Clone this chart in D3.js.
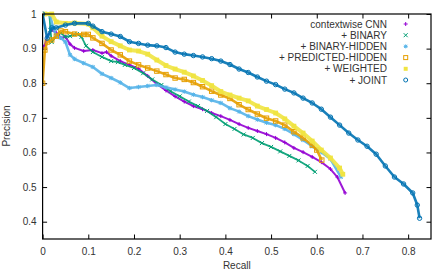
<!DOCTYPE html>
<html><head><meta charset="utf-8">
<script src="https://cdn.jsdelivr.net/npm/d3@7"></script>
<style>body{margin:0;background:#fff}svg{display:block}text{font-family:"Liberation Sans",Arial,sans-serif;font-size:10px;fill:#333}</style>
</head><body><svg id="c" width="433" height="274"></svg>
<script>
const seriesNames = ["contextwise CNN","+ BINARY","+ BINARY-HIDDEN","+ PREDICTED-HIDDEN","+ WEIGHTED","+ JOINT"];
const seriesColors = ["#9400d3","#009e73","#56b4e9","#e69f00","#f0e442","#0072b2"];
const seriesMarkers = ["plus","cross","star","square","filledSquare","circle"];
const xTicks = [0,0.1,0.2,0.3,0.4,0.5,0.6,0.7,0.8];
const yTicks = [0.4,0.5,0.6,0.7,0.8,0.9,1];
const xLabel = "Recall", yLabel = "Precision";

const cnnRecall = [0,0.005,0.01,0.02,0.03,0.04,0.05,0.06,0.07,0.09,0.11,0.13,0.14,0.15,0.17,0.19,0.21,0.23,0.25,0.27,0.29,0.31,0.33,0.35,0.37,0.39,0.41,0.43,0.45,0.47,0.49,0.51,0.53,0.55,0.57,0.59,0.61,0.63,0.645,0.662];
const cnnPrecision = [0.902,0.91,0.936,0.954,0.945,0.931,0.934,0.913,0.902,0.893,0.896,0.887,0.89,0.879,0.864,0.853,0.842,0.821,0.798,0.779,0.762,0.747,0.734,0.725,0.714,0.705,0.694,0.682,0.671,0.662,0.653,0.642,0.629,0.613,0.601,0.587,0.572,0.552,0.529,0.483];

const binRecall = [0.015,0.017,0.02,0.03,0.04,0.05,0.06,0.075,0.085,0.095,0.11,0.13,0.15,0.165,0.18,0.2,0.22,0.24,0.26,0.28,0.3,0.32,0.34,0.36,0.38,0.4,0.42,0.44,0.46,0.48,0.5,0.52,0.54,0.56,0.58,0.596];
const binPrecision = [1,0.954,0.919,0.936,0.945,0.934,0.936,0.942,0.934,0.908,0.89,0.876,0.864,0.861,0.853,0.844,0.829,0.811,0.795,0.777,0.762,0.747,0.734,0.72,0.702,0.682,0.668,0.652,0.642,0.627,0.616,0.603,0.59,0.577,0.561,0.544];

const binHidRecall = [0.017,0.022,0.03,0.04,0.05,0.06,0.07,0.09,0.11,0.13,0.15,0.17,0.19,0.21,0.23,0.25,0.27,0.29,0.31,0.33,0.35,0.37,0.39,0.41,0.43,0.45,0.47,0.49,0.51,0.53,0.55,0.57,0.59,0.61,0.63,0.653];
const binHidPrecision = [0.994,0.965,0.936,0.931,0.919,0.882,0.87,0.858,0.847,0.827,0.815,0.802,0.786,0.789,0.792,0.795,0.788,0.782,0.776,0.767,0.76,0.751,0.743,0.728,0.718,0.705,0.695,0.686,0.679,0.668,0.653,0.636,0.618,0.601,0.581,0.529];

const predRecall = [0,0.005,0.01,0.02,0.03,0.04,0.05,0.07,0.09,0.1,0.11,0.13,0.15,0.17,0.19,0.21,0.23,0.25,0.27,0.29,0.31,0.33,0.35,0.37,0.39,0.41,0.43,0.45,0.47,0.49,0.51,0.53,0.55,0.57,0.59,0.6,0.611];
const predPrecision = [0.8,0.896,0.919,0.925,0.936,0.951,0.949,0.942,0.941,0.941,0.931,0.915,0.896,0.882,0.864,0.853,0.844,0.835,0.825,0.815,0.811,0.802,0.79,0.777,0.766,0.756,0.738,0.724,0.711,0.699,0.691,0.679,0.66,0.642,0.621,0.607,0.578];

const weiRecall = [0.005,0.02,0.03,0.05,0.07,0.1,0.11,0.13,0.15,0.17,0.19,0.21,0.23,0.25,0.27,0.29,0.31,0.33,0.35,0.37,0.39,0.41,0.43,0.45,0.47,0.49,0.51,0.53,0.55,0.57,0.59,0.61,0.63,0.65,0.657];
const weiPrecision = [1,1,0.977,0.973,0.974,0.971,0.96,0.936,0.92,0.908,0.896,0.893,0.884,0.867,0.851,0.841,0.832,0.821,0.808,0.793,0.776,0.766,0.757,0.749,0.734,0.724,0.714,0.697,0.676,0.656,0.633,0.607,0.584,0.555,0.537];

const jointRecall = [0,0.01,0.02,0.03,0.05,0.07,0.1,0.11,0.13,0.15,0.17,0.19,0.21,0.23,0.25,0.27,0.29,0.31,0.33,0.35,0.37,0.39,0.41,0.43,0.45,0.47,0.49,0.51,0.53,0.55,0.57,0.59,0.61,0.63,0.65,0.67,0.69,0.71,0.73,0.75,0.77,0.79,0.81,0.82,0.825];
const jointPrecision = [1,0.93,0.96,0.96,0.968,0.973,0.973,0.965,0.949,0.942,0.935,0.92,0.915,0.91,0.908,0.903,0.89,0.884,0.88,0.876,0.871,0.864,0.854,0.841,0.831,0.818,0.806,0.796,0.783,0.772,0.757,0.743,0.725,0.702,0.679,0.656,0.636,0.618,0.595,0.561,0.529,0.509,0.483,0.448,0.41];

const seriesRecall = [cnnRecall,binRecall,binHidRecall,predRecall,weiRecall,jointRecall];
const seriesPrecision = [cnnPrecision,binPrecision,binHidPrecision,predPrecision,weiPrecision,jointPrecision];

const W=433,H=274, m={l:42.6,t:14,r:2,b:35};
const svg=d3.select("#c");
const x=d3.scaleLinear().domain([0,0.85]).range([m.l,W-m.r]);
const y=d3.scaleLinear().domain([0.35,1]).range([H-m.b,m.t]);

const tl=4.5;
svg.append("g").attr("transform",`translate(0,${H-m.b})`).call(d3.axisBottom(x).tickValues(xTicks).tickFormat(d3.format("")).tickSize(-tl).tickPadding(9))
  .call(g=>{g.select(".domain").remove();g.selectAll("text").attr("font-size",10).attr("fill","#333");});
svg.append("g").attr("transform",`translate(0,${m.t})`).call(d3.axisTop(x).tickValues(xTicks).tickFormat("").tickSize(-tl))
  .call(g=>g.select(".domain").remove());
svg.append("g").attr("transform",`translate(${m.l},0)`).call(d3.axisLeft(y).tickValues(yTicks).tickFormat(d3.format("")).tickSize(-tl).tickPadding(6))
  .call(g=>{g.select(".domain").remove();g.selectAll("text").attr("font-size",10).attr("fill","#333");});
svg.append("g").attr("transform",`translate(${W-m.r},0)`).call(d3.axisRight(y).tickValues(yTicks).tickFormat("").tickSize(-tl))
  .call(g=>g.select(".domain").remove());
svg.selectAll(".tick line").attr("stroke","#000");

svg.append("text").attr("x",x(0.425)).attr("y",268.5).attr("text-anchor","middle").text(xLabel);
svg.append("text").attr("transform",`translate(10,126) rotate(-90)`).attr("text-anchor","middle").text(yLabel);

svg.append("clipPath").attr("id","pc").append("rect").attr("x",m.l).attr("y",m.t-3).attr("width",W-m.l-m.r).attr("height",H-m.b-m.t+3);

function marker(g,type,color,cx,cy,s){
  if(type==="plus"){g.append("path").attr("d",`M${cx-s},${cy}H${cx+s}M${cx},${cy-s}V${cy+s}`).attr("stroke",color).attr("stroke-width",1);}
  else if(type==="cross"){g.append("path").attr("d",`M${cx-s},${cy-s}L${cx+s},${cy+s}M${cx-s},${cy+s}L${cx+s},${cy-s}`).attr("stroke",color).attr("stroke-width",1);}
  else if(type==="star"){g.append("path").attr("d",`M${cx-s},${cy}H${cx+s}M${cx},${cy-s}V${cy+s}M${cx-s*0.8},${cy-s*0.8}L${cx+s*0.8},${cy+s*0.8}M${cx-s*0.8},${cy+s*0.8}L${cx+s*0.8},${cy-s*0.8}`).attr("stroke",color).attr("stroke-width",1);}
  else if(type==="square"){g.append("rect").attr("x",cx-s).attr("y",cy-s).attr("width",2*s).attr("height",2*s).attr("fill","none").attr("stroke",color).attr("stroke-width",1);}
  else if(type==="filledSquare"){g.append("rect").attr("x",cx-s).attr("y",cy-s).attr("width",2*s).attr("height",2*s).attr("fill",color);}
  else if(type==="circle"){g.append("circle").attr("cx",cx).attr("cy",cy).attr("r",s).attr("fill","none").attr("stroke",color).attr("stroke-width",1);}
}

const plot=svg.append("g").attr("clip-path","url(#pc)");
const widths=[2,1.8,2.6,2.6,4,2.6];
const msize=[2,2,2.2,2.2,2.4,2.2];
seriesNames.forEach((name,i)=>{
  const pts=seriesRecall[i].map((r,j)=>[r,seriesPrecision[i][j]]);
  const g=plot.append("g");
  g.append("path").datum(pts).attr("d",d3.line().x(d=>x(d[0])).y(d=>y(d[1])))
    .attr("fill","none").attr("stroke",seriesColors[i]).attr("stroke-width",widths[i]).attr("stroke-linejoin","round").attr("stroke-opacity",0.9);
  pts.forEach(d=>marker(g,seriesMarkers[i],seriesColors[i],x(d[0]),y(d[1]),msize[i]));
});

svg.append("rect").attr("x",m.l).attr("y",m.t).attr("width",W-m.l-m.r).attr("height",H-m.t-m.b).attr("fill","none").attr("stroke","#000").attr("stroke-width",1.2);

const lg=svg.append("g");
seriesNames.forEach((name,i)=>{
  const yy=24+i*11.2;
  lg.append("text").attr("x",387).attr("y",yy+3.5).attr("text-anchor","end").text(name);
  marker(lg.append("g"),seriesMarkers[i],seriesColors[i],405.7,yy,2);
});
</script></body></html>
